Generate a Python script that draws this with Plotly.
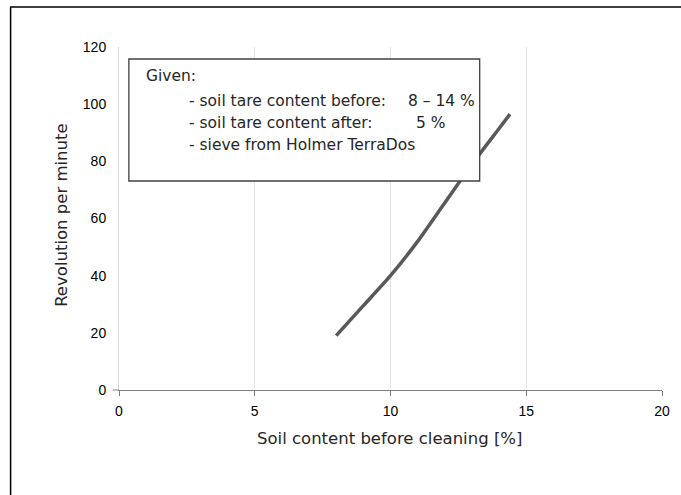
import plotly.graph_objects as go

# Data
soil_content = [8, 9, 10, 11, 12, 13, 14, 14.4]
revolutions = [19, 29.5, 40, 52, 65.5, 79, 91.5, 96.5]
x_ticks = [0, 5, 10, 15, 20]
y_ticks = [0, 20, 40, 60, 80, 100, 120]

x_title = "Soil content before cleaning [%]"
y_title = "Revolution per minute"

W, H = 681, 495
L, R, T, B = 119, 670, 47, 390  # plot area pixel bounds


def px(x):
    return (x - L) / (R - L)


def py(y):
    return (B - y) / (B - T)


fig = go.Figure()
fig.add_trace(go.Scatter(
    x=soil_content, y=revolutions, mode="lines",
    line=dict(color="#595959", width=3.5, shape="spline", smoothing=0.6),
    showlegend=False, hoverinfo="skip",
))

title_font = dict(family="DejaVu Sans", size=16.5, color="#262626")
box_font = dict(family="DejaVu Sans", size=15.5, color="#262626")
tick_font = dict(family="Liberation Sans", size=14, color="#000000")

annotations = [
    dict(text=x_title, x=px(393), y=py(438), xref="paper", yref="paper",
         showarrow=False, font=title_font, xanchor="center", yanchor="middle"),
    dict(text=y_title, x=px(60), y=py(215), xref="paper", yref="paper",
         showarrow=False, font=title_font, textangle=-90, xanchor="center", yanchor="middle"),
]

box_lines = [
    ("Given:", 144, 76),
    ("- soil tare content before:", 188, 101),
    ("8 – 14 %", 410, 101),
    ("- soil tare content after:", 188, 123),
    ("5 %", 418, 123),
    ("- sieve from Holmer TerraDos", 188, 145),
]
for txt, x, y in box_lines:
    annotations.append(dict(text=txt, x=px(x), y=py(y), xref="paper", yref="paper",
                            showarrow=False, font=box_font, xanchor="left", yanchor="middle"))

shapes = [
    # text box
    dict(type="rect", xref="paper", yref="paper",
         x0=px(129), x1=px(485), y0=py(181), y1=py(59),
         line=dict(color="#404040", width=1.3), fillcolor="white", layer="above"),
    # outer border of the chart area
    dict(type="rect", xref="paper", yref="paper",
         x0=px(9), x1=px(700), y0=py(520), y1=py(7),
         line=dict(color="#000000", width=1.5), layer="below"),
    # small tick at y = 0 on the left of the y axis
    dict(type="line", xref="paper", yref="paper",
         x0=px(113), x1=px(119), y0=py(390), y1=py(390),
         line=dict(color="#7f7f7f", width=1)),
]

fig.update_layout(
    width=W, height=H,
    margin=dict(l=L, r=W - R, t=T, b=H - B),
    paper_bgcolor="white", plot_bgcolor="white",
    annotations=annotations, shapes=shapes,
    xaxis=dict(range=[0, 20], tickvals=x_ticks, showgrid=True, gridcolor="#e3e3e3", gridwidth=1,
               zeroline=False, showline=True, linecolor="#7f7f7f", linewidth=1.2,
               ticks="outside", ticklen=5, tickcolor="#7f7f7f",
               tickfont=tick_font, ticklabelstandoff=3, fixedrange=True),
    yaxis=dict(range=[0, 120], tickvals=y_ticks, showgrid=False, zeroline=False,
               showline=True, linecolor="#d9d9d9", linewidth=1,
               ticks="", tickfont=tick_font, ticklabelstandoff=9, fixedrange=True),
)

fig.write_html("out.html", config={"displayModeBar": False},
               post_script="document.body.style.margin='0';")
